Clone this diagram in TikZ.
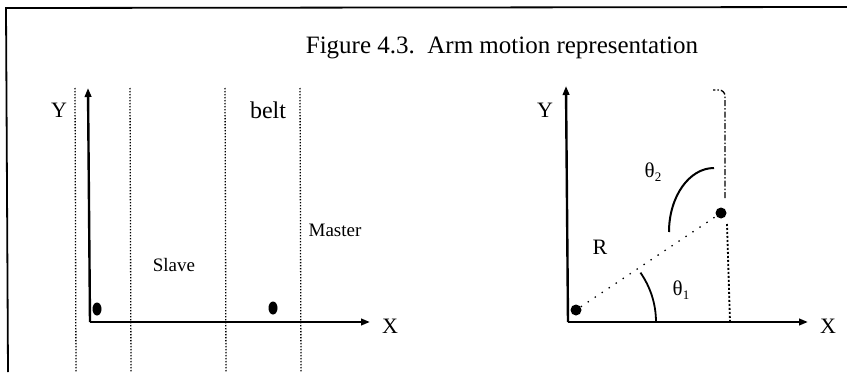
\documentclass[tikz,border=0pt]{standalone}
\usepackage{fontspec}
\setmainfont{Liberation Serif}
\usetikzlibrary{arrows.meta,shapes.geometric}
\newcommand{\thsub}[1]{θ\raisebox{-4pt}{\fontsize{13}{13}\selectfont #1}}
\begin{document}
\begin{tikzpicture}[x=1pt,y=-1pt,
  axis/.style={line width=2.4pt,-{Triangle[length=9pt,width=6.5pt]}},
  belt/.style={line width=1.3pt,dash pattern=on 1.4pt off 1.6pt},
  frame/.style={line width=1.8pt},
  lbl/.style={inner sep=0pt,font=\fontsize{22}{24}\selectfont},
  dotL/.style={ellipse,fill=black,minimum width=9pt,minimum height=13pt,inner sep=0pt},
  dotR/.style={circle,fill=black,minimum size=11pt,inner sep=0pt}]
\useasboundingbox (0,0) rectangle (847,380);
% frame
\draw[frame] (847,7) -- (6,8) -- (8,372);
% title
\node[inner sep=0pt,anchor=base,font=\fontsize{25}{28}\selectfont] (title) at (502,53) {Figure 4.3.\ \ Arm motion representation};
% ---- left panel ----
\coordinate (b1t) at (75,88);  \coordinate (b1b) at (76,372);
\coordinate (b2t) at (130,88); \coordinate (b2b) at (131,372);
\coordinate (b3t) at (225,88); \coordinate (b3b) at (226,372);
\coordinate (b4t) at (300,88); \coordinate (b4b) at (301,372);
\draw[belt] (b1t) -- (b1b);
\draw[belt] (b2t) -- (b2b);
\draw[belt] (b3t) -- (b3b);
\draw[belt] (b4t) -- (b4b);
\coordinate (O1) at (90,322);
\coordinate (Y1) at (88,88);
\coordinate (X1) at (370,322);
\draw[axis] (O1) -- (Y1);
\draw[axis] (O1) -- (X1);
\node[lbl] (ylab1) at (59,110) {Y};
\node[lbl] (xlab1) at (390,326) {X};
\node[lbl,font=\fontsize{24}{26}\selectfont] (beltlab) at (268,110) {belt};
\node[lbl,font=\fontsize{19}{21}\selectfont] (slave) at (174,265) {Slave};
\node[lbl,font=\fontsize{19}{21}\selectfont] (master) at (335,230) {Master};
\node[dotL] (slavedot) at (97,309) {};
\node[dotL] (masterdot) at (273,308) {};
% ---- right panel ----
\coordinate (O2) at (568,322);
\coordinate (Y2) at (566,86);
\coordinate (X2) at (808,322);
\draw[axis] (O2) -- (Y2);
\draw[axis] (O2) -- (X2);
\node[lbl] (ylab2) at (545,110) {Y};
\node[lbl] (xlab2) at (828,326) {X};
\node[dotR] (base) at (576,310) {};
\node[dotR] (tip) at (721,213) {};
\draw[line width=1.3pt,dash pattern=on 1.4pt off 7pt] (base) -- (tip);
\node[lbl] (Rlab) at (600,247) {R};
\node[lbl,font=\fontsize{21}{23}\selectfont] (t1) at (681,290) {\thsub{1}};
\node[lbl,font=\fontsize{21}{23}\selectfont] (t2) at (653,172) {\thsub{2}};
% theta1 arc
\draw[line width=1.8pt] (656,322) arc[start angle=0,end angle=35,radius=86pt];
% theta2 arc
\draw[line width=2pt] (669,232) arc[start angle=180,end angle=90,x radius=45pt,y radius=64pt];
% vertical lines through tip
\coordinate (topc) at (713,90);
\draw[line width=1.3pt,dash pattern=on 6pt off 2pt on 1.5pt off 2pt] (725,198) -- (725,96) arc[start angle=0,end angle=90,radius=6pt] -- (topc);
\draw[line width=1.8pt,dash pattern=on 2pt off 2pt] (727,224) -- (730,322);
\end{tikzpicture}
\end{document}
